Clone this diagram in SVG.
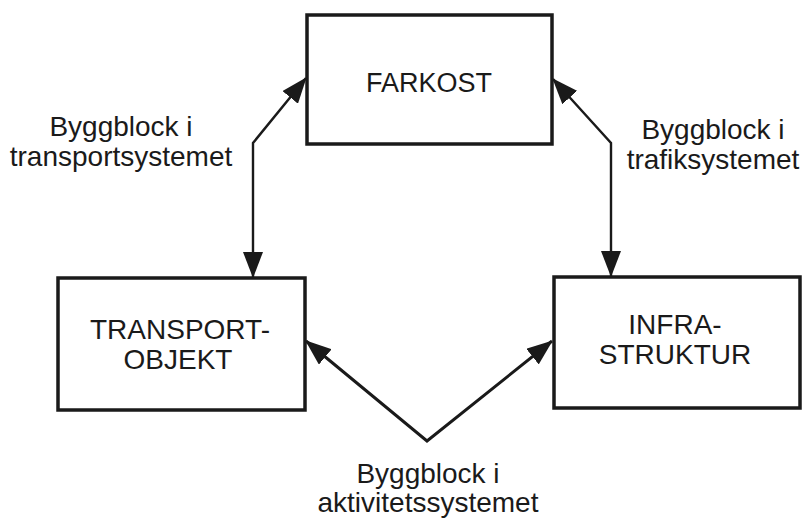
<svg xmlns="http://www.w3.org/2000/svg" width="804" height="518" viewBox="0 0 804 518">
<style>
.box{fill:#fff;stroke:#1a1a1a;stroke-width:3.5}
.t{font-family:"Liberation Sans",Arial,sans-serif;font-size:28px;fill:#1a1a1a;text-anchor:middle}
.c{fill:none;stroke:#1a1a1a;stroke-width:2.4;stroke-linejoin:miter}
.c2{fill:none;stroke:#1a1a1a;stroke-width:3}
</style>
<defs>
<marker id="ah" viewBox="0 0 26 20" markerUnits="userSpaceOnUse" markerWidth="26" markerHeight="20" refX="25" refY="10" orient="auto-start-reverse">
<path d="M0,0 L26,10 L0,20 z" fill="#1a1a1a"/>
</marker>
</defs>
<rect width="804" height="518" fill="#fff"/>
<g id="connectors">
<polyline class="c" points="306,78 253,143 253,277" marker-start="url(#ah)" marker-end="url(#ah)"/>
<polyline class="c" points="553,79 611,143 611,276" marker-start="url(#ah)" marker-end="url(#ah)"/>
<polyline class="c2" points="306,341 427,441 552,341" marker-start="url(#ah)" marker-end="url(#ah)"/>
</g>
<g id="farkost">
<rect class="box" x="307" y="15" width="245" height="129"/>
<text class="t" x="429" y="92" style="font-size:27px">FARKOST</text>
</g>
<g id="transportobjekt">
<rect class="box" x="58" y="278" width="247" height="132"/>
<text class="t" x="180" y="339">TRANSPORT-</text>
<text class="t" x="178" y="369">OBJEKT</text>
</g>
<g id="infrastruktur">
<rect class="box" x="554" y="277" width="246" height="131"/>
<text class="t" x="675" y="334">INFRA-</text>
<text class="t" x="675" y="364">STRUKTUR</text>
</g>
<g id="label-transport">
<text class="t" x="121" y="136">Byggblock i</text>
<text class="t" x="121" y="166">transportsystemet</text>
</g>
<g id="label-trafik">
<text class="t" x="713" y="139">Byggblock i</text>
<text class="t" x="713" y="169">trafiksystemet</text>
</g>
<g id="label-aktivitet">
<text class="t" x="428" y="483">Byggblock i</text>
<text class="t" x="428" y="512">aktivitetssystemet</text>
</g>
</svg>
